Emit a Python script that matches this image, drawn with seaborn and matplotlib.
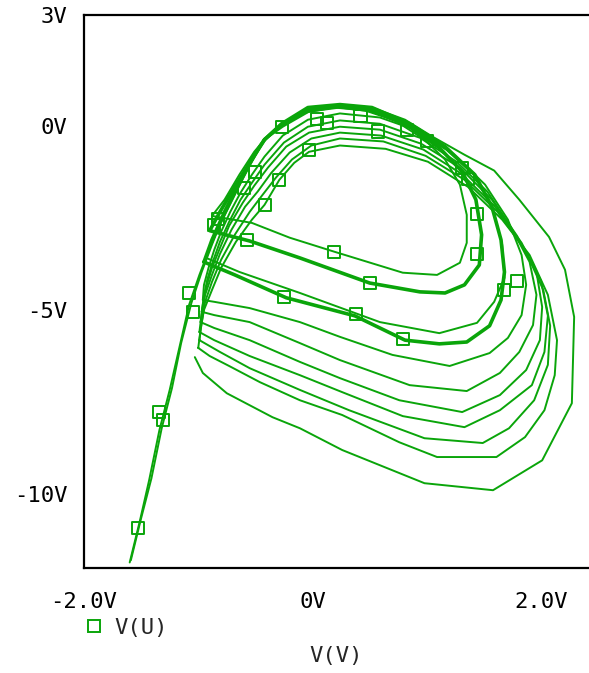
import matplotlib
matplotlib.use("Agg")
import matplotlib.pyplot as plt
from matplotlib.lines import Line2D
import pandas as pd
import seaborn as sns

GREEN = '#0aa50a'

# rising branch (two sweeps start bottom-left)
rise_x = [-1.60, -1.51, -1.43, -1.34, -1.25, -1.16, -1.08, -0.99, -0.90, -0.81, -0.68, -0.55, -0.42]
rise_y = [-11.85, -10.71, -9.62, -8.26, -7.17, -5.95, -4.86, -4.05, -3.32, -2.69, -1.88, -1.06, -0.38]
rise2_x = [-1.59, -1.50, -1.41, -1.32, -1.23, -1.15, -1.06, -0.97, -0.88, -0.80, -0.67, -0.53, -0.42]
rise2_y = [-11.79, -10.65, -9.57, -8.21, -7.12, -5.90, -4.81, -3.97, -3.23, -2.61, -1.79, -0.98, -0.38]

# laps, outermost first
lap11_x = [-0.42, -0.27, -0.04, 0.24, 0.52, 0.81, 1.05, 1.33, 1.59, 1.81, 2.07, 2.21, 2.29, 2.28, 2.27, 2.01,
           1.58, 0.98, 0.26, -0.11, -0.35, -0.75, -0.96, -1.03]
lap11_y = [-0.38, 0.03, 0.46, 0.57, 0.49, 0.16, -0.30, -0.79, -1.22, -2.01, -3.02, -3.91, -5.19, -6.36, -7.53, -9.08,
           -9.89, -9.70, -8.80, -8.21, -7.91, -7.26, -6.71, -6.28]
lap10_x = [-1.00, -0.98, -0.95, -0.88, -0.80, -0.67, -0.53, -0.42, -0.29, -0.16, -0.03, 0.24, 0.64, 1.01, 1.36, 1.66,
           1.90, 2.06, 2.14, 2.12, 2.03, 1.86, 1.61, 1.09, 0.76, 0.26, -0.11, -0.46, -0.73, -0.90, -1.00]
lap10_y = [-6.03, -5.54, -5.00, -4.46, -3.86, -3.15, -2.55, -2.15, -1.47, -1.01, -0.71, -0.54, -0.63, -0.98, -1.66, -2.55,
           -3.51, -4.59, -5.82, -6.77, -7.72, -8.45, -8.99, -8.99, -8.59, -7.85, -7.45, -6.96, -6.52, -6.25, -6.03]
lap9_x = [-0.99, -0.97, -0.94, -0.88, -0.80, -0.68, -0.55, -0.45, -0.32, -0.18, -0.01, 0.24, 0.62, 0.99, 1.33, 1.62,
          1.86, 2.02, 2.08, 2.06, 1.94, 1.72, 1.49, 0.98, 0.32, -0.11, -0.55, -0.81, -0.99]
lap9_y = [-5.82, -5.33, -4.78, -4.24, -3.64, -2.96, -2.34, -1.93, -1.41, -0.92, -0.54, -0.35, -0.43, -0.82, -1.47, -2.34,
          -3.37, -4.46, -5.43, -6.49, -7.45, -8.21, -8.61, -8.48, -7.72, -7.17, -6.58, -6.14, -5.82]
lap8_x = [-0.99, -0.97, -0.94, -0.88, -0.81, -0.71, -0.59, -0.48, -0.36, -0.20, -0.01, 0.24, 0.60, 0.97, 1.30, 1.59,
          1.83, 2.00, 2.06, 2.03, 1.92, 1.64, 1.33, 0.79, 0.26, -0.11, -0.55, -0.86, -0.99]
lap8_y = [-5.60, -5.11, -4.59, -4.05, -3.48, -2.83, -2.20, -1.79, -1.28, -0.73, -0.35, -0.19, -0.27, -0.65, -1.30, -2.17,
          -3.18, -4.21, -5.16, -6.14, -7.04, -7.72, -8.18, -7.88, -7.23, -6.77, -6.25, -5.82, -5.60]
lap7_x = [-0.98, -0.96, -0.93, -0.88, -0.81, -0.73, -0.61, -0.51, -0.39, -0.23, -0.03, 0.24, 0.59, 0.95, 1.29, 1.57,
          1.79, 1.96, 2.01, 1.99, 1.87, 1.64, 1.31, 0.76, 0.24, -0.11, -0.55, -0.86, -0.98]
lap7_y = [-5.33, -4.86, -4.38, -3.86, -3.32, -2.72, -2.09, -1.63, -1.14, -0.57, -0.19, -0.03, -0.11, -0.49, -1.14, -2.01,
          -2.99, -3.97, -4.92, -5.82, -6.63, -7.31, -7.77, -7.45, -6.85, -6.41, -5.82, -5.49, -5.33]
lap6_x = [-0.97, -0.95, -0.92, -0.87, -0.81, -0.73, -0.63, -0.53, -0.42, -0.25, -0.04, 0.24, 0.59, 0.94, 1.26, 1.53,
          1.74, 1.90, 1.96, 1.93, 1.81, 1.64, 1.35, 0.85, 0.24, -0.11, -0.55, -0.86, -0.97]
lap6_y = [-5.05, -4.62, -4.16, -3.67, -3.15, -2.61, -2.01, -1.55, -1.06, -0.46, -0.03, 0.14, 0.05, -0.33, -0.98, -1.79,
          -2.77, -3.70, -4.59, -5.41, -6.14, -6.71, -7.20, -7.04, -6.36, -5.90, -5.33, -5.14, -5.05]
lap5_x = [-0.96, -0.95, -0.91, -0.86, -0.80, -0.72, -0.63, -0.53, -0.42, -0.26, -0.04, 0.24, 0.59, 0.94, 1.24, 1.51,
          1.71, 1.83, 1.87, 1.83, 1.71, 1.55, 1.20, 0.70, 0.24, -0.11, -0.55, -0.86, -0.96]
lap5_y = [-4.73, -4.32, -3.86, -3.37, -2.88, -2.34, -1.82, -1.33, -0.84, -0.27, 0.16, 0.33, 0.22, -0.16, -0.79, -1.60,
          -2.55, -3.51, -4.32, -5.14, -5.76, -6.17, -6.52, -6.22, -5.73, -5.33, -4.95, -4.78, -4.73]
lap4_x = [-0.93, -0.87, -0.76, -0.64, -0.51, -0.42, -0.26, -0.03, 0.24, 0.52, 0.85, 1.17, 1.44, 1.58, 1.66, 1.68,
          1.59, 1.44, 1.11, 0.59, -0.11, -0.64, -0.93]
lap4_y = [-3.59, -3.04, -2.34, -1.52, -0.79, -0.38, -0.03, 0.38, 0.49, 0.38, -0.03, -0.65, -1.41, -2.28, -3.23, -4.13,
          -4.78, -5.35, -5.63, -5.33, -4.54, -3.97, -3.59]
lap3_x = [-0.95, -0.88, -0.77, -0.64, -0.51, -0.42, -0.27, -0.04, 0.24, 0.52, 0.85, 1.16, 1.42, 1.57, 1.65, 1.68,
          1.65, 1.55, 1.35, 1.11, 0.81, 0.37, -0.23, -0.68, -0.95]
lap3_y = [-3.70, -3.10, -2.34, -1.52, -0.79, -0.38, 0.05, 0.49, 0.57, 0.49, 0.05, -0.57, -1.33, -2.20, -3.10, -3.97,
          -4.73, -5.43, -5.87, -5.92, -5.82, -5.16, -4.67, -4.05, -3.70]
lap2_x = [-0.42, -0.27, -0.04, 0.24, 0.50, 0.81, 1.11, 1.31, 1.43, 1.48, 1.46, 1.33, 1.16, 0.94, 0.50, -0.11,
          -0.55, -0.90, -0.81, -0.67, -0.53, -0.42]
lap2_y = [-0.38, 0.03, 0.43, 0.54, 0.43, 0.05, -0.60, -1.25, -2.01, -2.96, -3.78, -4.32, -4.54, -4.51, -4.27, -3.59,
          -3.13, -2.85, -2.34, -1.60, -0.92, -0.38]
lap1_x = [-0.42, -0.29, -0.07, 0.19, 0.46, 0.72, 0.98, 1.16, 1.29, 1.35, 1.35, 1.29, 1.09, 0.79, 0.19, -0.20,
          -0.53, -0.88, -0.77, -0.64, -0.51, -0.42]
lap1_y = [-0.38, -0.05, 0.35, 0.49, 0.41, 0.14, -0.38, -0.92, -1.60, -2.42, -3.18, -3.72, -4.05, -3.99, -3.42, -3.04,
          -2.64, -2.45, -2.01, -1.33, -0.71, -0.38]

# marker samples of V(U)
mark_x = [-1.53, -1.34, -1.31, -1.08, -1.05, -0.83, -0.86, -0.57, -0.60, -0.50, -0.42, -0.29, -0.25, -0.27, -0.03, 0.04,
          0.13, 0.19, 0.42, 0.57, 0.50, 0.38, 0.79, 0.83, 1.00, 1.31, 1.36, 1.44, 1.44, 1.68, 1.79]
mark_y = [-10.92, -7.77, -7.99, -4.54, -5.05, -2.53, -2.69, -3.10, -1.68, -1.25, -2.15, -1.47, -4.65, -0.05, -0.65, 0.19,
          0.08, -3.42, 0.27, -0.16, -4.27, -5.11, -5.79, -0.11, -0.41, -1.14, -1.44, -2.39, -3.48, -4.46, -4.21]

pieces = {
    'rise': (rise_x, rise_y), 'rise2': (rise2_x, rise2_y),
    'lap11': (lap11_x, lap11_y), 'lap10': (lap10_x, lap10_y), 'lap9': (lap9_x, lap9_y),
    'lap8': (lap8_x, lap8_y), 'lap7': (lap7_x, lap7_y), 'lap6': (lap6_x, lap6_y),
    'lap5': (lap5_x, lap5_y), 'lap4': (lap4_x, lap4_y), 'lap3': (lap3_x, lap3_y),
    'lap2': (lap2_x, lap2_y), 'lap1': (lap1_x, lap1_y),
}
THICK = ['lap3', 'lap2']

frames = []
for name, (xs, ys) in pieces.items():
    frames.append(pd.DataFrame({'piece': name, 'x': xs, 'y': ys}))
df = pd.concat(frames, ignore_index=True)

sns.set_style("white")
plt.rcParams['font.family'] = 'DejaVu Sans Mono'

fig = plt.figure(figsize=(5.89, 6.73), dpi=100)
ax = fig.add_axes([84 / 589, 1 - 568 / 673, 1 - 84 / 589, (568 - 15) / 673])

sns.lineplot(data=df[~df.piece.isin(THICK)], x='x', y='y', units='piece', estimator=None, sort=False,
             color=GREEN, lw=1.4, ax=ax, legend=False)
sns.lineplot(data=df[df.piece.isin(THICK)], x='x', y='y', units='piece', estimator=None, sort=False,
             color=GREEN, lw=2.6, ax=ax, legend=False)
sns.scatterplot(x=mark_x, y=mark_y, marker='s', s=75, color=GREEN, facecolor='none', edgecolor=GREEN,
                linewidth=1.4, ax=ax, zorder=3)

ax.set_xlim(-2.0, 2.42)
ax.set_ylim(-12, 3)
ax.set_xticks([-2, 0, 2])
ax.set_xticklabels(['-2.0V', '0V', '2.0V'])
ax.set_yticks([3, 0, -5, -10])
ax.set_yticklabels(['3V', '0V', '-5V', '-10V'])
ax.tick_params(direction='out', length=7, width=1.2, labelsize=16, colors='black')
ax.tick_params(axis='x', pad=10)
ax.tick_params(axis='y', pad=5)
ax.spines['right'].set_visible(False)
for s in ['left', 'bottom', 'top']:
    ax.spines[s].set_linewidth(1.6)
    ax.spines[s].set_color('black')
ax.set_xlabel('V(V)', fontsize=16, labelpad=25)
ax.set_ylabel('')

handle = Line2D([], [], marker='s', ls='none', mfc='none', mec=GREEN, ms=9, mew=1.4)
ax.legend(handles=[handle], labels=['V(U)'], loc='center left', bbox_to_anchor=(83 / 589, 1 - 628 / 673),
          bbox_transform=fig.transFigure, frameon=False, fontsize=16, handlelength=1.0,
          handletextpad=0.4, borderpad=0, borderaxespad=0)

fig.savefig('out.png', dpi=100)
